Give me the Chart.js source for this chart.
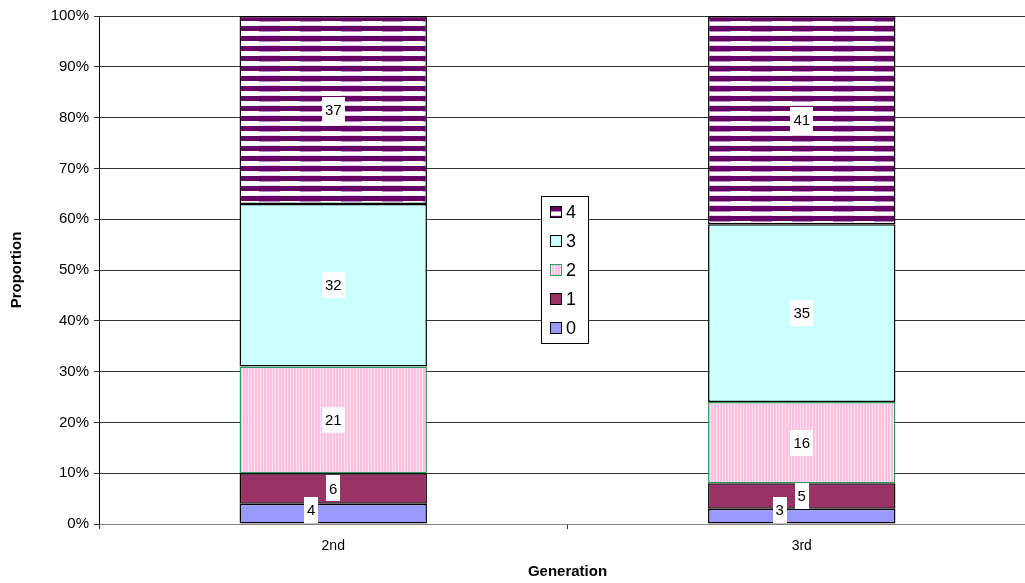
<!DOCTYPE html>
<html>
<head>
<meta charset="utf-8">
<script src="https://cdn.jsdelivr.net/npm/chart.js@4.4.0/dist/chart.umd.min.js"></script>
<style>
  html, body { margin: 0; padding: 0; background: #fff; overflow: hidden; }
  #wrap { width: 1025px; height: 583px; overflow: hidden; }
</style>
</head>
<body>
<div id="wrap"><canvas id="chart" width="1036" height="583"></canvas></div>
<script>
// data (counts per generation, each generation adds to 100)
var generations = ["2nd", "3rd"];
var seriesNames = ["0", "1", "2", "3", "4"];
var counts0 = [4, 3];
var counts1 = [6, 5];
var counts2 = [21, 16];
var counts3 = [32, 35];
var counts4 = [37, 41];
var yTicks = [0, 10, 20, 30, 40, 50, 60, 70, 80, 90, 100];

var allCounts = [counts0, counts1, counts2, counts3, counts4];
var FONT = "'Liberation Sans', Arial, sans-serif";

var canvas = document.getElementById("chart");
var ctx = canvas.getContext("2d");

// percentages for the 100% stacked columns
var totals = generations.map(function (g, i) {
  var t = 0;
  allCounts.forEach(function (s) { t += s[i]; });
  return t;
});
function toPercent(arr) {
  return arr.map(function (v, i) { return v / totals[i] * 100; });
}

// Excel-like fill patterns
function purpleStripes() {
  var c = document.createElement("canvas");
  c.width = 41; c.height = 10;
  var g = c.getContext("2d");
  g.fillStyle = "#ffffff"; g.fillRect(0, 0, 41, 10);
  g.fillStyle = "#660066";
  g.fillRect(0, 6, 41, 4);
  g.fillRect(0, 0, 41, 1);
  g.fillStyle = "#b48cbc"; g.fillRect(13, 1, 21, 1);
  g.fillStyle = "#e4d2e8"; g.fillRect(13, 5, 21, 1);
  return ctx.createPattern(c, "repeat");
}
function pinkStripes() {
  var c = document.createElement("canvas");
  c.width = 3; c.height = 1;
  var g = c.getContext("2d");
  g.fillStyle = "#ffbfdf"; g.fillRect(0, 0, 2, 1);
  g.fillStyle = "#ffe6f2"; g.fillRect(2, 0, 1, 1);
  return ctx.createPattern(c, "repeat");
}

var fills = ["#9999ff", "#993366", pinkStripes(), "#ccffff", purpleStripes()];
var borders = ["#000000", "#000000", "#339966", "#000000", "#000000"];

var datasets = seriesNames.map(function (name, i) {
  return {
    label: name,
    data: toPercent(allCounts[i]),
    counts: allCounts[i],
    backgroundColor: fills[i],
    borderColor: borders[i],
    borderWidth: 1.5,
    borderSkipped: false,
    categoryPercentage: 1.0,
    barPercentage: 0.4
  };
});

// value labels in white boxes, centred on each segment
var valueLabels = {
  id: "valueLabels",
  afterDatasetsDraw: function (chart) {
    var c = chart.ctx;
    var area = chart.chartArea;
    c.save();
    c.font = "15px " + FONT;
    c.textAlign = "center";
    c.textBaseline = "middle";
    generations.forEach(function (g, gi) {
      var boxes = [];
      chart.data.datasets.forEach(function (ds, di) {
        var el = chart.getDatasetMeta(di).data[gi];
        var txt = String(ds.counts[gi]);
        var w = c.measureText(txt).width + 6;
        var h = 26;
        var cy = (el.y + el.base) / 2;
        if (cy + h / 2 > area.bottom - 1) cy = area.bottom - 1 - h / 2;
        boxes.push({ x: el.x, y: cy, w: w, h: h, txt: txt });
      });
      // push a label left when it collides with the one above
      for (var k = 0; k < boxes.length - 1; k++) {
        var a = boxes[k], b = boxes[k + 1];
        if (a.y - a.h / 2 < b.y + b.h / 2) a.x -= 22;
      }
      boxes.forEach(function (bx) {
        c.fillStyle = "#ffffff";
        c.fillRect(Math.round(bx.x - bx.w / 2), Math.round(bx.y - bx.h / 2), Math.round(bx.w), bx.h);
        c.fillStyle = "#000000";
        c.fillText(bx.txt, bx.x, bx.y + 1);
      });
    });
    c.restore();
  }
};

// legend box in the middle of the plot, series listed top-down 4..0
var boxLegend = {
  id: "boxLegend",
  afterDraw: function (chart) {
    var c = chart.ctx;
    var left = 541, top = 196, w = 47, h = 147;
    c.save();
    c.fillStyle = "#ffffff";
    c.fillRect(left, top, w, h);
    c.strokeStyle = "#000000";
    c.lineWidth = 1;
    c.strokeRect(left + 0.5, top + 0.5, w, h);
    c.font = "18px " + FONT;
    c.textBaseline = "middle";
    c.textAlign = "left";
    var n = chart.data.datasets.length;
    for (var i = 0; i < n; i++) {
      var di = n - 1 - i;
      var ds = chart.data.datasets[di];
      var y = top + 16 + i * 29;
      c.fillStyle = ds.backgroundColor;
      c.fillRect(551, y - 5, 10, 10);
      c.strokeStyle = ds.borderColor;
      c.strokeRect(550.5, y - 5.5, 11, 11);
      c.fillStyle = "#000000";
      c.fillText(ds.label, 566, y + 1);
    }
    c.restore();
  }
};

new Chart(ctx, {
  type: "bar",
  data: { labels: generations, datasets: datasets },
  plugins: [valueLabels, boxLegend],
  options: {
    responsive: false,
    animation: false,
    layout: { padding: { top: 16, right: 0, bottom: 0, left: 0 } },
    plugins: {
      legend: { display: false },
      tooltip: { enabled: false }
    },
    scales: {
      x: {
        stacked: true,
        offset: true,
        afterFit: function (s) { s.height = 59; },
        grid: {
          drawOnChartArea: false,
          drawTicks: true,
          tickLength: 5,
          color: "#333333",
          offset: true
        },
        border: { color: "#808080" },
        ticks: {
          color: "#000000",
          padding: 9,
          font: { family: FONT, size: 14 }
        },
        title: {
          display: true,
          text: "Generation",
          color: "#000000",
          padding: { top: 4, bottom: 2 },
          font: { family: FONT, size: 15, weight: "bold" }
        }
      },
      y: {
        stacked: true,
        min: 0,
        max: 100,
        afterFit: function (s) { s.width = 99; },
        afterBuildTicks: function (s) {
          s.ticks = yTicks.map(function (v) { return { value: v }; });
        },
        grid: {
          color: "#333333",
          tickLength: 5
        },
        border: { color: "#000000" },
        ticks: {
          color: "#000000",
          padding: 5,
          font: { family: FONT, size: 15 },
          callback: function (v) { return v + "%"; }
        },
        title: {
          display: true,
          text: "Proportion",
          color: "#000000",
          padding: { top: 8, bottom: 4 },
          font: { family: FONT, size: 15, weight: "bold" }
        }
      }
    }
  }
});
</script>
</body>
</html>
